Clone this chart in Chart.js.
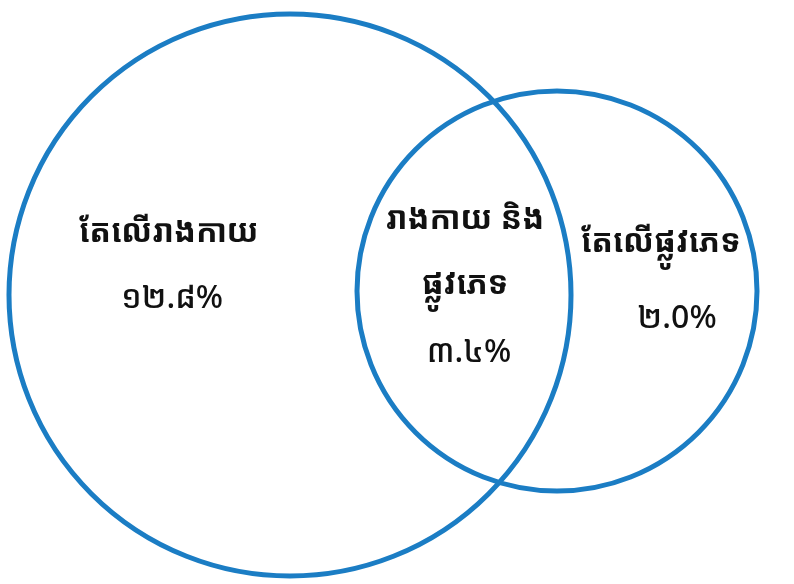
<!DOCTYPE html>
<html lang="km">
<head>
    <meta charset="UTF-8">
    <title>Venn diagram</title>
    <script src="https://cdn.jsdelivr.net/npm/chart.js"></script>
    <style>
        html, body { margin: 0; padding: 0; background: #ffffff; }
        .venn-wrap { width: 794px; height: 584px; }
    </style>
</head>
<body>
    <div class="venn-wrap">
        <canvas id="vennChart" width="794" height="584"></canvas>
    </div>

    <script>
        // sets and their shares
        const setNames = ['រាងកាយ', 'ផ្លូវភេទ'];
        const regionLabels = [
            ['តែលើរាងកាយ', '១២.៨%'],
            ['រាងកាយ និង', 'ផ្លូវភេទ', '៣.៤%'],
            ['តែលើផ្លូវភេទ', '២.0%']
        ];
        const regionValues = [12.8, 3.4, 2.0];

        // circle layout, in diagram units (canvas is 794 x 584 units)
        const circleX = [290, 557];
        const circleY = [295, 291];
        const circleR = [281, 200];
        // label anchor points per region
        const labelX = [169, 465, 661];
        const labelX2 = [172, 469, 677];
        const labelY = [[233, 299], [220, 285, 353], [243, 319]];

        const blue = 'rgb(27, 125, 196)';

        const ctx = document.getElementById('vennChart').getContext('2d');

        const regionText = {
            id: 'regionText',
            afterDatasetsDraw(chart) {
                const { ctx, scales: { x, y } } = chart;
                ctx.save();
                ctx.fillStyle = '#111';
                ctx.textAlign = 'center';
                ctx.textBaseline = 'middle';
                regionLabels.forEach((lines, i) => {
                    lines.forEach((line, j) => {
                        const isNumber = j === lines.length - 1;
                        ctx.font = isNumber ? '500 32px "Noto Sans Khmer", "Khmer OS", "DejaVu Sans", sans-serif'
                                            : 'bold 32px "Noto Sans Khmer", "Khmer OS", "DejaVu Sans", sans-serif';
                        const px = x.getPixelForValue(isNumber ? labelX2[i] : labelX[i]);
                        ctx.fillText(line, px, y.getPixelForValue(labelY[i][j]));
                    });
                });
                ctx.restore();
            }
        };

        // radius goes through the x scale so it stays in diagram units
        const radiusPx = (c) => {
            const sx = c.chart.scales.x;
            if (!sx) return 0;
            return sx.getPixelForValue(circleR[c.dataIndex]) - sx.getPixelForValue(0);
        };

        new Chart(ctx, {
            type: 'scatter',
            data: {
                datasets: [{
                    label: setNames.join(' / '),
                    data: circleX.map((cx, i) => ({ x: cx, y: circleY[i] })),
                    pointBackgroundColor: 'rgba(0,0,0,0)',
                    pointBorderColor: blue,
                    pointBorderWidth: 5,
                    pointHoverBorderWidth: 5,
                    pointRadius: radiusPx,
                    pointHoverRadius: radiusPx,
                    clip: false
                }]
            },
            options: {
                responsive: false,
                animation: false,
                events: [],
                layout: { padding: 0, autoPadding: false },
                scales: {
                    x: { type: 'linear', min: 0, max: 794, display: false },
                    y: { type: 'linear', min: 0, max: 584, reverse: true, display: false }
                },
                plugins: {
                    legend: { display: false },
                    tooltip: { enabled: false }
                }
            },
            plugins: [regionText]
        });
    </script>
</body>
</html>
